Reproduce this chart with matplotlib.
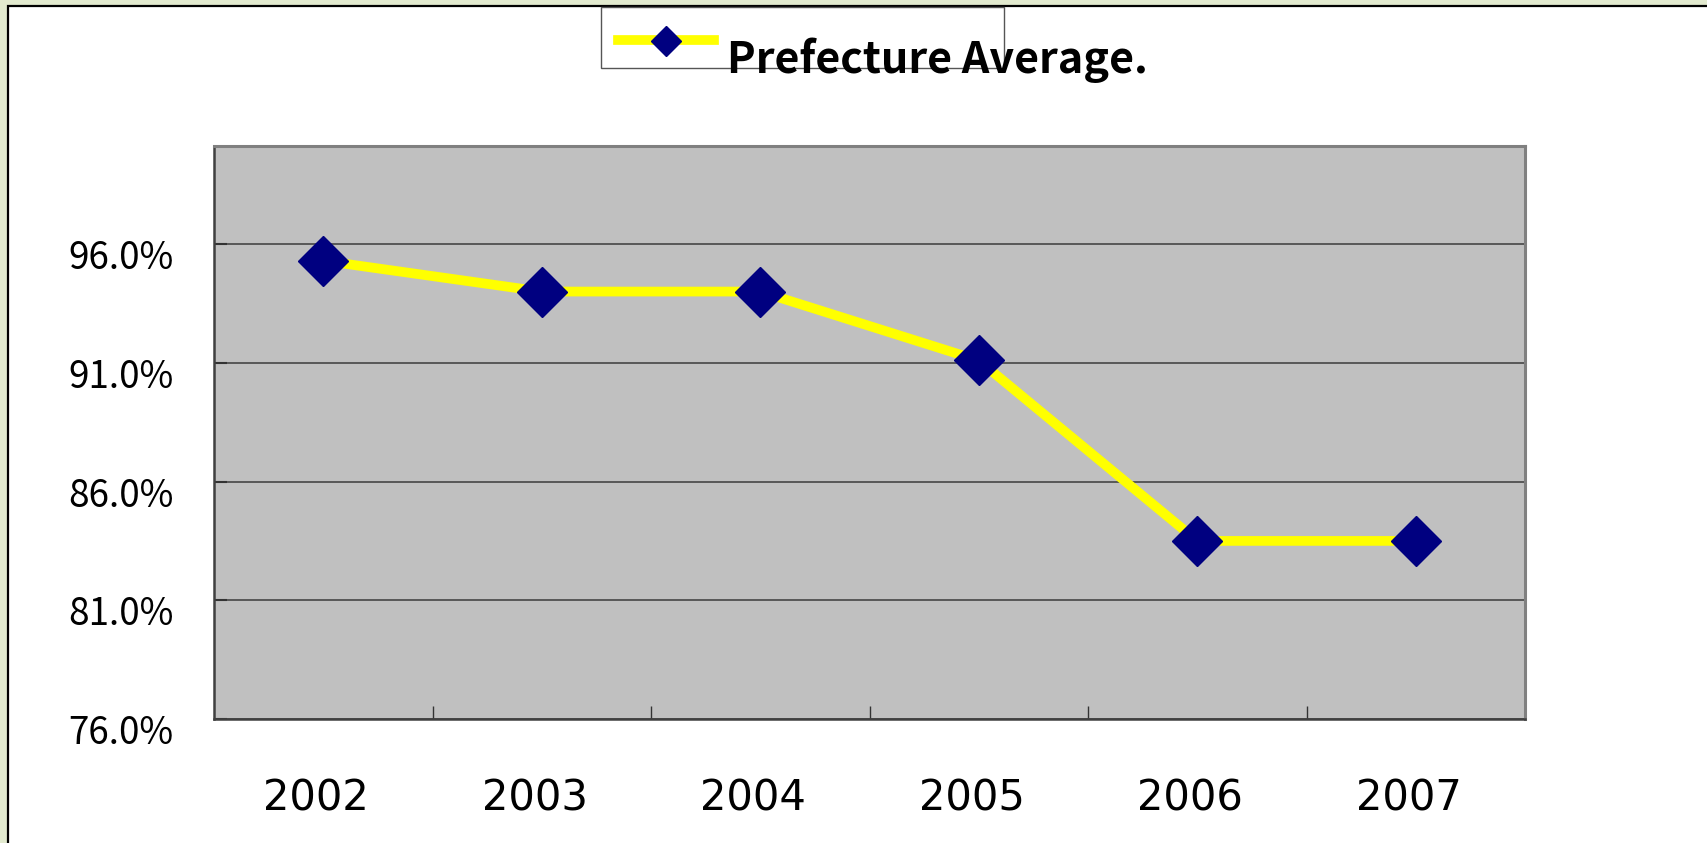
import matplotlib
matplotlib.use("Agg")
import matplotlib.pyplot as plt
from matplotlib.patches import Rectangle
from matplotlib.lines import Line2D
from matplotlib.transforms import ScaledTranslation

# Data
years = ["2002", "2003", "2004", "2005", "2006", "2007"]
prefecture_avg = [95.3, 94.0, 94.0, 91.1, 83.5, 83.5]
y_ticks = [76, 81, 86, 91, 96]
series_name = "Prefecture Average."

W, H = 1707, 843
fig = plt.figure(figsize=(W / 100, H / 100), dpi=100)
fig.patch.set_facecolor("#e2eacf")


def px(x, y):
    # pixel position (from top-left) -> figure fraction
    return x / W, 1 - y / H


# white slide area with black border
x0, y0 = px(8, 6)
fig.add_artist(Rectangle((x0, -0.05), 1.1, y0 + 0.05, transform=fig.transFigure,
                         facecolor="white", edgecolor="black", linewidth=1.6, zorder=0))

ax = fig.add_axes([214 / W, 1 - 719 / H, 1311 / W, 573 / H])
ax.set_facecolor("#c0c0c0")

x = list(range(len(years)))
ax.plot(x, prefecture_avg, color="#ffff00", linewidth=7, marker="D", markersize=25,
        markerfacecolor="#000080", markeredgecolor="#000080", zorder=3)

ax.set_xlim(-0.5, len(years) - 0.5)
ax.set_ylim(76, 100.13)

ax.set_yticks(y_ticks)
ax.set_yticklabels([f"{v:.1f}%" for v in y_ticks])
ax.set_xticks(x)
ax.set_xticklabels(years)
ax.set_xticks([i + 0.5 for i in range(len(years))], minor=True)

ax.yaxis.grid(True, color="#3c3c3c", linewidth=1.1)
ax.set_axisbelow(True)

ax.tick_params(axis="y", direction="in", length=9, width=1.5, color="#333333", pad=29,
               labelsize=26.5)
ax.tick_params(axis="x", which="major", length=0, pad=42, labelsize=30)
ax.tick_params(axis="x", which="minor", direction="in", length=9.5, width=1, color="#333333")

for lab in ax.get_yticklabels():
    lab.set_fontfamily(["Noto Sans CJK JP", "DejaVu Sans"])
    lab.set_transform(lab.get_transform() + ScaledTranslation(0, -0.1, fig.dpi_scale_trans))
for lab in ax.get_xticklabels():
    lab.set_fontfamily("DejaVu Sans")
    lab.set_transform(lab.get_transform() + ScaledTranslation(-0.07, 0, fig.dpi_scale_trans))

for side in ["top", "right"]:
    ax.spines[side].set_color("#808080")
    ax.spines[side].set_linewidth(2.2)
for side in ["left", "bottom"]:
    ax.spines[side].set_color("#404040")
    ax.spines[side].set_linewidth(1.8)

# legend drawn by hand, text runs past the box like the original
bx0, by1 = px(601, 7)
bx1, by0 = px(1004, 68)
fig.add_artist(Rectangle((bx0, by0), bx1 - bx0, by1 - by0, transform=fig.transFigure,
                         facecolor="white", edgecolor="#555555", linewidth=1, zorder=1))
lx0, ly = px(618, 40)
lx1, _ = px(714, 40)
fig.add_artist(Line2D([lx0, lx1], [ly, ly], transform=fig.transFigure, color="#ffff00",
                      linewidth=7, zorder=2))
mx, my = px(666, 41)
fig.add_artist(Line2D([mx], [my], transform=fig.transFigure, marker="D", markersize=15,
                      markerfacecolor="#000080", markeredgecolor="#000080", zorder=3))
tx, ty = px(727, 73)
fig.text(tx, ty, series_name, fontsize=31, va="baseline", ha="left", fontweight="bold",
         family=["Noto Sans CJK JP", "DejaVu Sans"], zorder=4)

fig.savefig("out.png", dpi=100, facecolor=fig.get_facecolor())
